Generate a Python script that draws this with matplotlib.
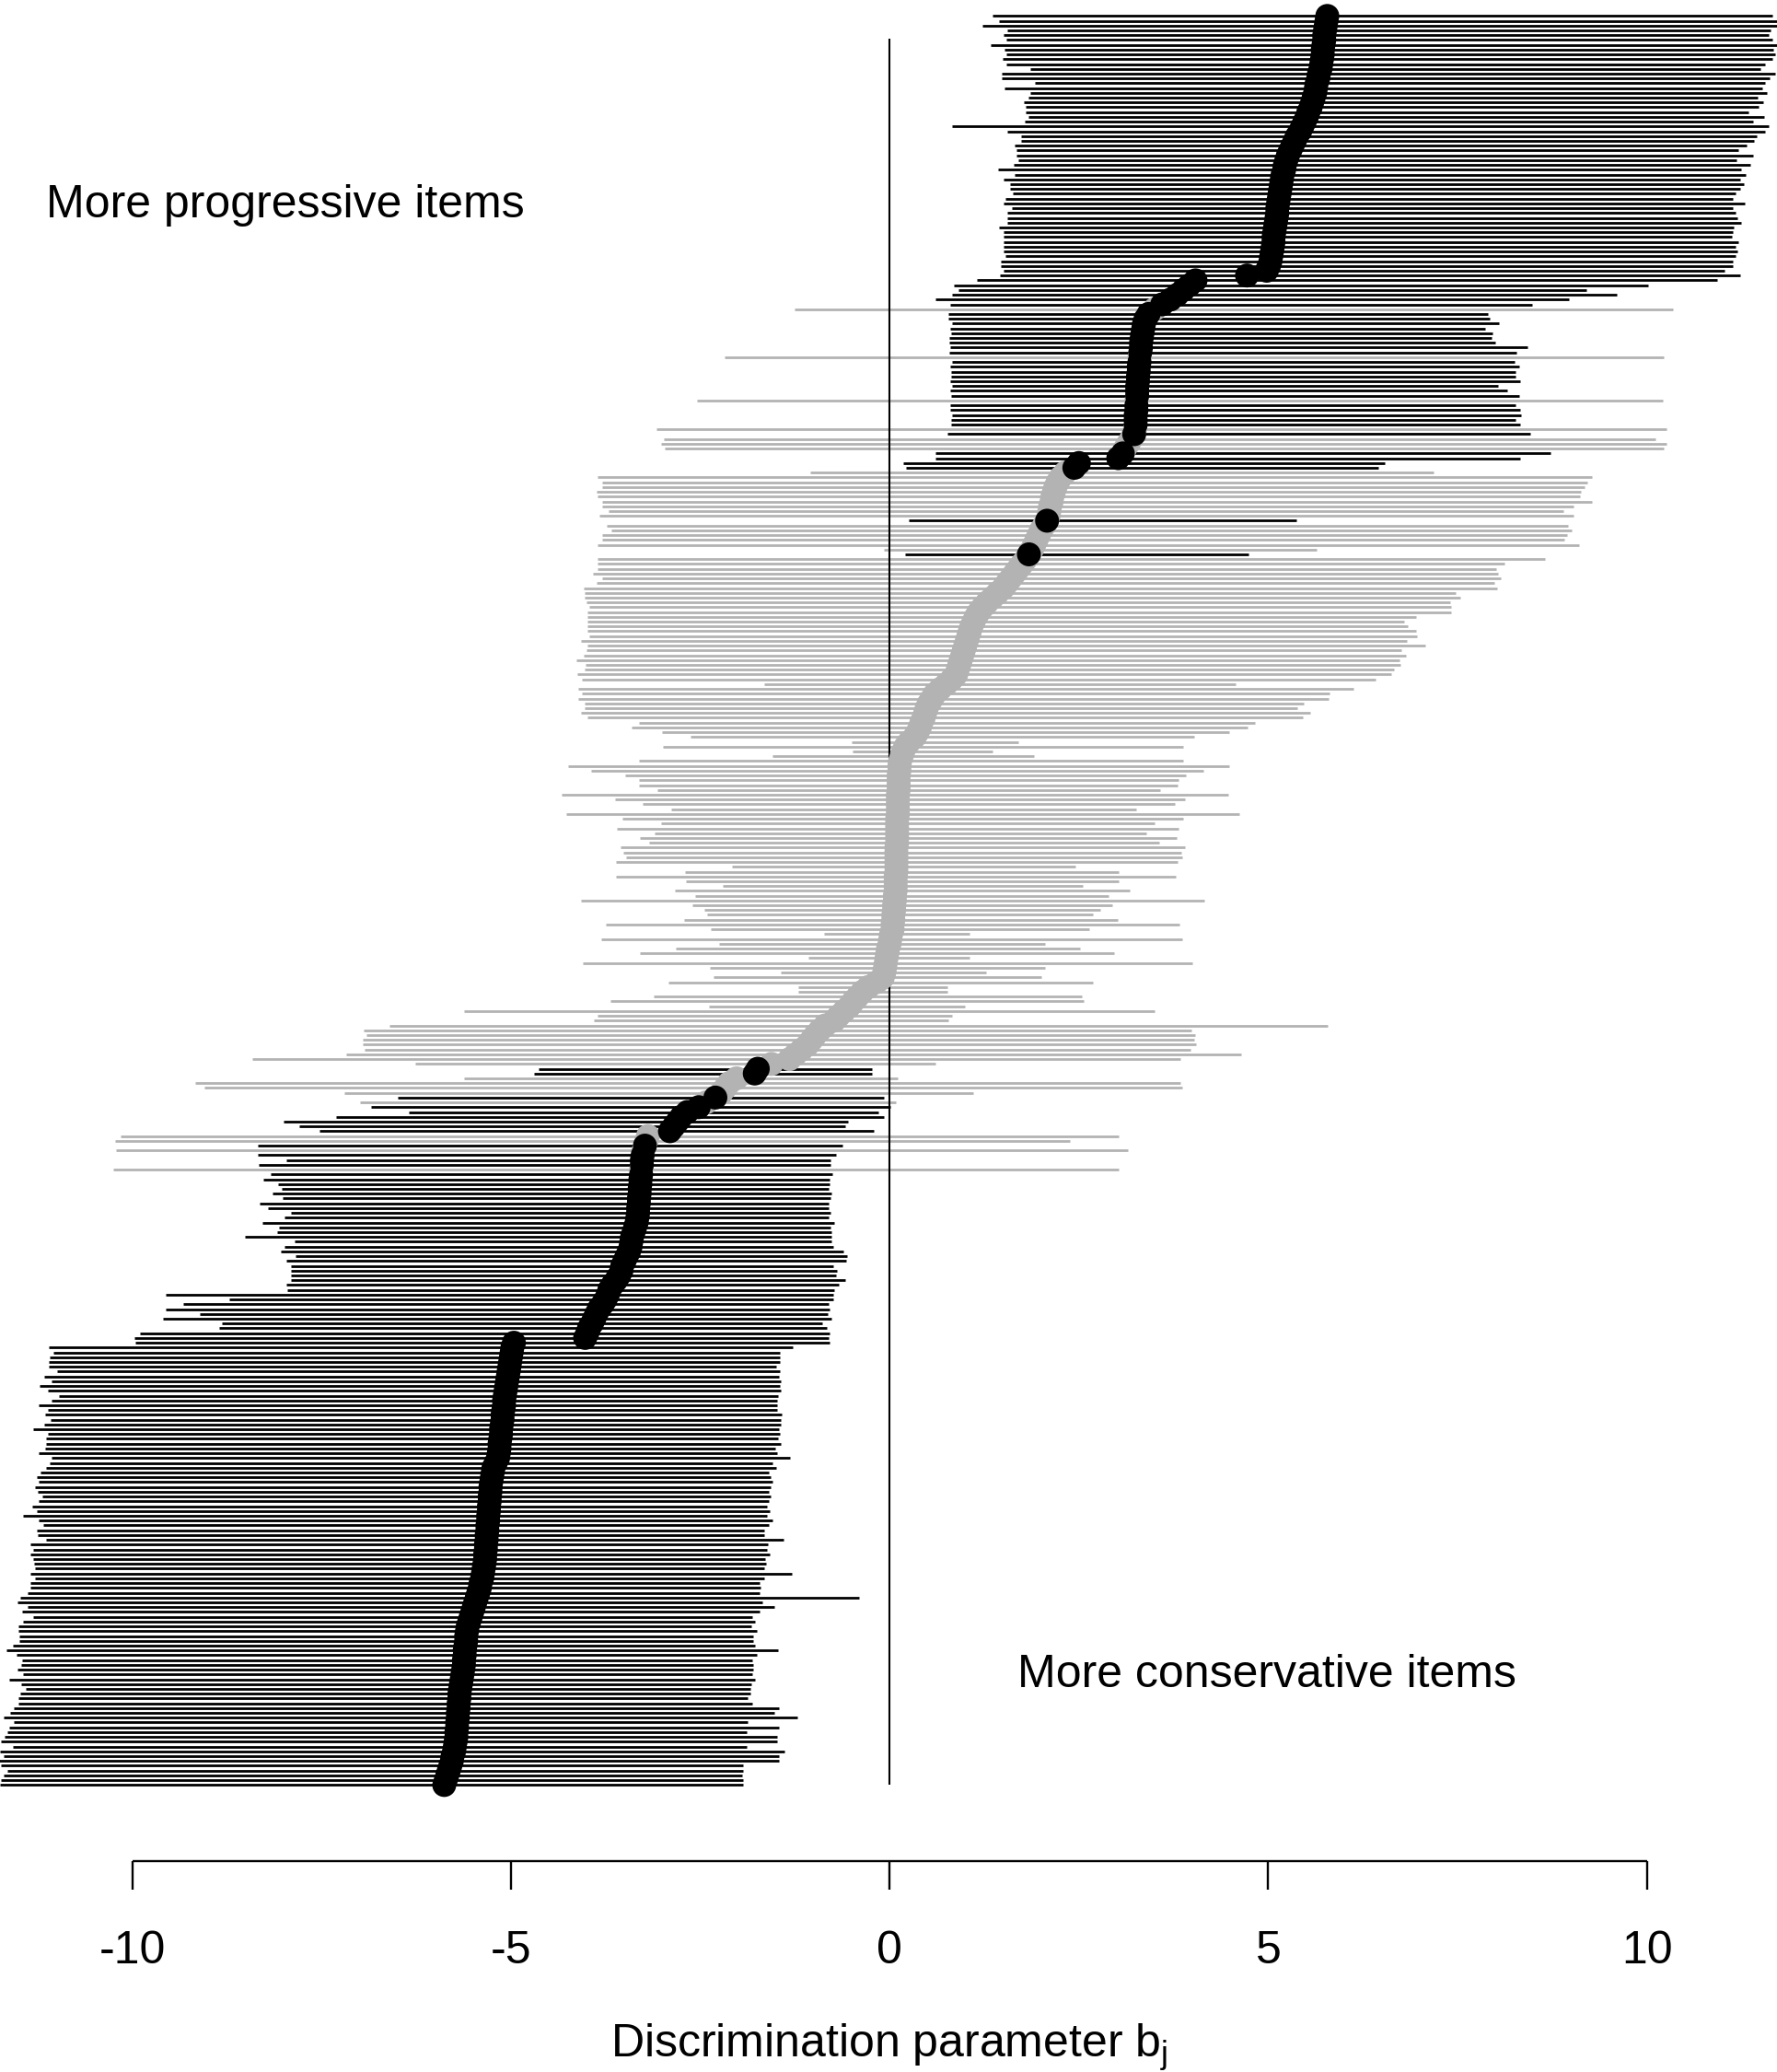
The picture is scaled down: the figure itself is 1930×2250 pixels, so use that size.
import matplotlib.pyplot as plt

# Posterior intervals for each item, top row first (largest estimate at the top)
lower = [
    1.36, 1.44, 1.23, 1.55, 1.50, 1.54, 1.33, 1.52, 1.54, 1.49,
    1.54, 1.86, 1.48, 1.48, 1.92, 1.52, 1.86, 1.83, 1.77, 1.80,
    1.80, 1.83, 1.79, 0.83, 1.56, 1.74, 1.74, 1.65, 1.67, 1.67,
    1.70, 1.64, 1.43, 1.65, 1.51, 1.59, 1.59, 1.63, 1.53, 1.51,
    1.62, 1.56, 1.56, 1.56, 1.44, 1.51, 1.50, 1.51, 1.51, 1.51,
    1.53, 1.47, 1.47, 1.50, 1.46, 1.15, 0.85, 0.91, 0.83, 0.60,
    0.80, -1.25, 0.78, 0.78, 0.82, 0.80, 0.81, 0.79, 0.79, 0.80,
    0.79, -2.18, 0.83, 0.80, 0.81, 0.81, 0.80, 0.83, 0.80, 0.81,
    -2.54, 0.80, 0.80, 0.82, 0.81, 0.81, -3.08, 0.76, -2.98, -3.02,
    -2.97, 0.60, 0.61, 0.18, 0.22, -1.05, -3.85, -3.80, -3.80, -3.87,
    -3.86, -3.79, -3.79, -3.71, -3.83, 0.25, -3.74, -3.67, -3.80, -3.80,
    -3.85, -0.07, 0.20, -3.85, -3.86, -3.85, -3.92, -3.80, -3.87, -4.04,
    -4.02, -4.02, -4.00, -3.96, -3.99, -3.99, -3.99, -3.99, -3.99, -3.97,
    -4.08, -3.99, -4.00, -4.04, -4.14, -4.01, -4.03, -4.12, -4.06, -1.66,
    -4.11, -4.06, -4.11, -4.03, -4.03, -4.08, -3.99, -3.31, -3.41, -3.00,
    -2.63, -0.50, -2.99, -0.49, -1.54, -3.31, -4.25, -3.94, -3.49, -3.31,
    -3.31, -3.06, -4.33, -3.62, -3.26, -2.88, -4.27, -3.53, -3.02, -3.60,
    -3.10, -3.30, -3.18, -3.55, -3.52, -3.48, -3.61, -2.08, -2.70, -3.61,
    -2.69, -2.20, -2.84, -2.57, -4.08, -2.60, -2.44, -2.41, -2.71, -3.75,
    -2.36, -0.86, -3.81, -2.25, -2.82, -3.30, -1.07, -4.05, -2.37, -1.44,
    -2.32, -2.92, -1.21, -1.21, -3.12, -3.69, -2.38, -5.62, -3.85, -3.91,
    -6.60, -6.94, -6.91, -6.96, -6.95, -6.93, -7.17, -8.41, -6.26, -4.63,
    -4.69, -5.62, -9.17, -9.05, -7.20, -6.49, -6.99, -6.85, -6.35, -7.31,
    -8.00, -7.79, -7.53, -10.15, -10.23, -8.34, -10.21, -8.34, -7.96, -8.33,
    -10.25, -8.17, -8.27, -8.08, -8.02, -8.15, -8.01, -8.32, -8.21, -7.91,
    -7.99, -8.28, -8.06, -8.09, -8.51, -7.85, -7.99, -8.04, -7.84, -7.96,
    -7.91, -7.91, -7.90, -7.90, -7.97, -7.95, -9.56, -8.72, -9.33, -9.56,
    -9.11, -9.60, -8.81, -8.85, -9.90, -9.97, -9.96, -11.10, -11.04, -11.09,
    -11.10, -11.10, -10.99, -11.16, -11.06, -11.22, -11.11, -10.97, -11.07, -11.23,
    -11.11, -11.15, -11.08, -11.16, -11.31, -11.11, -11.14, -11.14, -11.15, -11.24,
    -11.06, -11.09, -11.14, -11.21, -11.26, -11.24, -11.28, -11.25, -11.19, -11.23,
    -11.32, -11.26, -11.44, -11.23, -11.17, -11.26, -11.25, -11.14, -11.35, -11.31,
    -11.35, -11.31, -11.30, -11.29, -11.34, -11.28, -11.35, -11.35, -11.38, -11.48,
    -11.52, -11.38, -11.45, -11.31, -11.44, -11.50, -11.50, -11.49, -11.49, -11.57,
    -11.66, -11.53, -11.45, -11.47, -11.52, -11.44, -11.63, -11.47, -11.40, -11.48,
    -11.50, -11.50, -11.56, -11.61, -11.70, -11.56, -11.63, -11.65, -11.68, -11.73,
    -11.58, -11.75, -11.70, -11.77, -11.73, -11.65, -11.70, -11.73, -11.75,
]

upper = [
    11.66, 11.74, 11.74, 11.63, 11.61, 11.66, 11.75, 11.67, 11.69, 11.66,
    11.56, 11.50, 11.69, 11.62, 11.56, 11.52, 11.59, 11.46, 11.53, 11.47,
    11.34, 11.55, 11.40, 11.61, 11.56, 11.45, 11.41, 11.32, 11.21, 11.40,
    11.18, 11.36, 11.24, 11.31, 11.23, 11.28, 11.23, 11.17, 11.13, 11.29,
    11.14, 11.17, 11.19, 11.24, 11.15, 11.13, 11.12, 11.21, 11.17, 11.20,
    11.17, 11.14, 11.14, 11.03, 11.23, 10.93, 10.01, 9.20, 9.60, 8.97,
    8.48, 10.34, 7.90, 7.92, 8.05, 7.86, 7.96, 7.95, 8.00, 8.42,
    8.28, 10.22, 8.25, 8.31, 8.27, 8.27, 8.33, 8.03, 8.16, 8.31,
    10.21, 8.27, 8.33, 8.34, 8.27, 8.33, 10.26, 8.46, 10.11, 10.26,
    10.22, 8.73, 8.33, 6.54, 6.45, 7.18, 9.27, 9.21, 9.18, 9.13,
    9.12, 9.27, 9.03, 8.90, 9.03, 5.37, 8.96, 9.01, 8.95, 8.91,
    9.10, 5.64, 4.74, 8.66, 8.12, 8.01, 8.04, 8.07, 7.99, 8.02,
    7.47, 7.54, 7.40, 7.41, 7.42, 6.95, 6.79, 6.84, 6.95, 6.96,
    6.83, 7.07, 6.76, 6.82, 6.73, 6.75, 6.66, 6.62, 6.42, 4.57,
    6.12, 5.81, 5.80, 5.47, 5.39, 5.55, 5.46, 4.82, 4.73, 4.49,
    4.02, 1.70, 3.88, 1.36, 1.91, 3.88, 4.49, 4.14, 3.91, 3.81,
    3.80, 3.57, 4.47, 3.90, 3.77, 3.26, 4.62, 3.88, 3.50, 3.82,
    3.39, 3.79, 3.56, 3.90, 3.85, 3.86, 3.80, 2.45, 3.02, 3.78,
    3.02, 2.55, 3.17, 2.89, 4.16, 2.94, 2.78, 2.69, 3.01, 3.83,
    2.64, 1.06, 3.86, 2.05, 2.52, 2.97, 1.05, 4.00, 2.05, 1.28,
    2.00, 2.69, 0.77, 0.76, 2.54, 2.56, 1.00, 3.50, 0.82, 0.78,
    5.79, 3.99, 4.04, 4.02, 4.05, 3.97, 4.64, 3.84, 0.60, -0.23,
    -0.23, 0.11, 3.84, 3.87, 1.10, -0.08, 0.08, 0.01, -0.15, -0.07,
    -0.55, -0.59, -0.21, 3.02, 2.38, -0.62, 3.15, -0.71, -0.78, -0.78,
    3.03, -0.76, -0.79, -0.79, -0.80, -0.77, -0.78, -0.80, -0.80, -0.78,
    -0.80, -0.73, -0.78, -0.77, -0.77, -0.77, -0.74, -0.61, -0.56, -0.57,
    -0.74, -0.70, -0.71, -0.58, -0.67, -0.73, -0.74, -0.74, -0.80, -0.79,
    -0.82, -0.77, -0.89, -0.83, -0.79, -0.81, -0.79, -1.28, -1.45, -1.45,
    -1.45, -1.50, -1.45, -1.46, -1.44, -1.45, -1.44, -1.47, -1.48, -1.48,
    -1.48, -1.43, -1.44, -1.44, -1.46, -1.45, -1.47, -1.44, -1.51, -1.48,
    -1.32, -1.54, -1.50, -1.60, -1.57, -1.55, -1.57, -1.59, -1.57, -1.59,
    -1.62, -1.58, -1.62, -1.55, -1.59, -1.65, -1.65, -1.40, -1.61, -1.62,
    -1.58, -1.64, -1.63, -1.65, -1.29, -1.65, -1.71, -1.70, -1.71, -0.40,
    -1.68, -1.52, -1.72, -1.81, -1.78, -1.83, -1.75, -1.80, -1.80, -1.78,
    -1.47, -1.75, -1.81, -1.80, -1.80, -1.81, -1.78, -1.82, -1.84, -1.84,
    -1.87, -1.81, -1.46, -1.52, -1.22, -1.88, -1.46, -1.89, -1.48, -1.48,
    -1.89, -1.39, -1.46, -1.46, -1.94, -1.93, -1.95, -1.94, -1.94,
]

estimate = [
    5.78, 5.77, 5.76, 5.75, 5.74, 5.74, 5.73, 5.72, 5.72, 5.71,
    5.70, 5.69, 5.67, 5.66, 5.64, 5.63, 5.62, 5.60, 5.58, 5.56,
    5.53, 5.51, 5.48, 5.45, 5.42, 5.38, 5.35, 5.32, 5.29, 5.26,
    5.24, 5.22, 5.21, 5.19, 5.18, 5.17, 5.16, 5.15, 5.14, 5.13,
    5.12, 5.12, 5.11, 5.10, 5.09, 5.08, 5.07, 5.07, 5.06, 5.05,
    5.04, 5.03, 5.01, 4.98, 4.72, 4.04, 3.96, 3.88, 3.80, 3.71,
    3.60, 3.50, 3.42, 3.38, 3.36, 3.35, 3.34, 3.33, 3.32, 3.32,
    3.31, 3.30, 3.30, 3.29, 3.29, 3.28, 3.28, 3.27, 3.27, 3.27,
    3.26, 3.26, 3.26, 3.25, 3.25, 3.25, 3.24, 3.23, 3.19, 3.15,
    3.11, 3.08, 3.02, 2.50, 2.44, 2.32, 2.26, 2.22, 2.19, 2.17,
    2.15, 2.14, 2.12, 2.11, 2.10, 2.08, 2.04, 2.00, 1.97, 1.94,
    1.91, 1.88, 1.84, 1.80, 1.75, 1.70, 1.65, 1.60, 1.55, 1.50,
    1.43, 1.36, 1.29, 1.23, 1.18, 1.14, 1.11, 1.08, 1.06, 1.04,
    1.02, 1.00, 0.98, 0.96, 0.94, 0.92, 0.90, 0.88, 0.82, 0.75,
    0.67, 0.60, 0.56, 0.52, 0.49, 0.47, 0.45, 0.42, 0.40, 0.37,
    0.33, 0.26, 0.21, 0.18, 0.16, 0.14, 0.13, 0.13, 0.12, 0.12,
    0.12, 0.12, 0.11, 0.11, 0.11, 0.11, 0.11, 0.10, 0.10, 0.10,
    0.10, 0.10, 0.10, 0.09, 0.09, 0.09, 0.09, 0.09, 0.09, 0.08,
    0.08, 0.08, 0.08, 0.07, 0.07, 0.06, 0.06, 0.05, 0.05, 0.04,
    0.04, 0.02, 0.01, 0.00, -0.02, -0.03, -0.04, -0.05, -0.06, -0.07,
    -0.09, -0.17, -0.28, -0.36, -0.42, -0.48, -0.53, -0.60, -0.67, -0.73,
    -0.85, -0.92, -0.98, -1.03, -1.08, -1.16, -1.24, -1.32, -1.56, -1.74,
    -1.78, -2.02, -2.12, -2.17, -2.22, -2.30, -2.42, -2.52, -2.67, -2.75,
    -2.80, -2.85, -2.90, -3.19, -3.21, -3.23, -3.25, -3.26, -3.27, -3.27,
    -3.28, -3.28, -3.29, -3.29, -3.30, -3.30, -3.31, -3.31, -3.32, -3.32,
    -3.33, -3.34, -3.36, -3.38, -3.40, -3.41, -3.42, -3.44, -3.47, -3.50,
    -3.53, -3.54, -3.57, -3.61, -3.66, -3.70, -3.72, -3.75, -3.79, -3.84,
    -3.87, -3.90, -3.93, -3.97, -3.99, -4.02, -4.96, -4.98, -4.99, -5.00,
    -5.01, -5.02, -5.03, -5.04, -5.05, -5.06, -5.07, -5.08, -5.09, -5.09,
    -5.10, -5.11, -5.11, -5.12, -5.13, -5.13, -5.14, -5.15, -5.15, -5.16,
    -5.17, -5.20, -5.23, -5.24, -5.25, -5.26, -5.27, -5.27, -5.28, -5.28,
    -5.29, -5.29, -5.30, -5.30, -5.31, -5.31, -5.32, -5.32, -5.33, -5.33,
    -5.34, -5.34, -5.35, -5.36, -5.37, -5.38, -5.40, -5.41, -5.43, -5.45,
    -5.47, -5.49, -5.51, -5.53, -5.55, -5.57, -5.58, -5.59, -5.59, -5.60,
    -5.61, -5.61, -5.62, -5.62, -5.63, -5.64, -5.65, -5.66, -5.67, -5.68,
    -5.68, -5.69, -5.69, -5.70, -5.70, -5.71, -5.71, -5.72, -5.72, -5.73,
    -5.74, -5.75, -5.77, -5.78, -5.80, -5.82, -5.84, -5.86, -5.88,
]

# items whose interval covers zero are drawn in grey, given as (first, last) row spans
grey_spans = [(61, 61), (71, 71), (80, 80), (86, 86), (88, 90), (95, 104),
              (106, 111), (113, 218), (221, 224), (226, 226), (233, 234),
              (236, 236), (240, 240)]

tick_values = [-10, -5, 0, 5, 10]
tick_labels = ['-10', '-5', '0', '5', '10']

GREY = '#B3B3B3'

n = len(estimate)
rows = list(range(n))
grey_rows = set()
for first, last in grey_spans:
    grey_rows.update(range(first, last + 1))
colours = [GREY if i in grey_rows else 'black' for i in rows]

plt.rcParams['font.family'] = ['Liberation Sans', 'DejaVu Sans']
plt.rcParams['mathtext.fontset'] = 'custom'
plt.rcParams['mathtext.rm'] = 'Liberation Sans'
plt.rcParams['mathtext.it'] = 'Liberation Sans:italic'

fig = plt.figure(figsize=(19.3, 22.5), dpi=100)
ax = fig.add_axes([0, 0, 1, 1])
ax.set_xlim(-11.746, 11.718)
ax.set_ylim(427.7, -3.314)
ax.axis('off')

# interval segments
ax.hlines(rows, lower, upper, colors=colours, linewidth=2.0, zorder=1)

# zero reference line
ax.vlines(0, 4.73, 368.0, color='black', linewidth=1.5, zorder=2)

# point estimates: grey first, black on top
grey_idx = [i for i in rows if i in grey_rows]
black_idx = [i for i in rows if i not in grey_rows]
ax.scatter([estimate[i] for i in grey_idx], grey_idx, s=350,
           color=GREY, edgecolors='none', zorder=3)
ax.scatter([estimate[i] for i in black_idx], black_idx, s=350,
           color='black', edgecolors='none', zorder=4)

# hand-drawn x axis in the R style
axis_y = 383.8
ax.hlines(axis_y, tick_values[0], tick_values[-1], color='black', linewidth=1.7)
ax.vlines(tick_values, axis_y, 389.7, color='black', linewidth=1.7)
for v, lab in zip(tick_values, tick_labels):
    ax.text(v, 405.0, lab, ha='center', va='baseline', fontsize=36)

ax.text(0, 424.7, r'Discrimination parameter b$_{\mathrm{j}}$',
        ha='center', va='baseline', fontsize=36)

ax.text(-11.138, 41.8, 'More progressive items', ha='left', va='baseline', fontsize=36)
ax.text(1.69, 347.6, 'More conservative items', ha='left', va='baseline', fontsize=36)

plt.savefig('out.png', dpi=100)
